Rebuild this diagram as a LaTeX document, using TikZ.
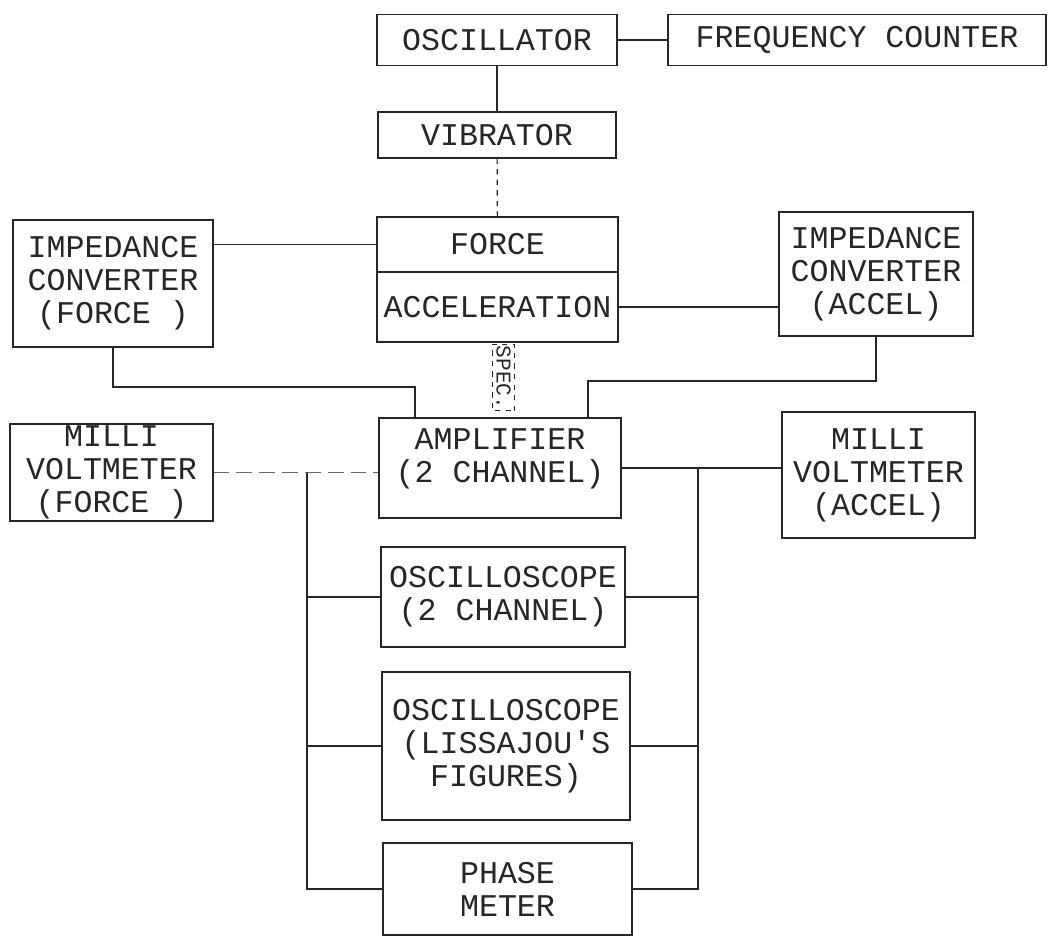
\documentclass[tikz,border=0pt]{standalone}
\usepackage{fontspec}
\newfontfamily\typer{Liberation Mono}
\usetikzlibrary{calc}

\begin{document}
\begin{tikzpicture}[
    x=0.02cm, y=-0.02cm,
    color=black!85,
    line width=0.7pt,
    unit/.style={draw, rectangle, inner sep=0pt, align=center,
      font=\typer\fontsize{18}{18.8}\selectfont},
    faint/.style={black!60, dash pattern=on 9pt off 4pt},
    spec/.style={draw, dashed, line width=0.6pt, inner sep=1pt,
      font=\typer\fontsize{12}{12}\selectfont}
  ]
  \useasboundingbox (0,0) rectangle (1050,938);

  \node[unit, minimum width=4.8cm, minimum height=1.02cm] (osc) at (497,40) {OSCILLATOR};
  \node[unit, minimum width=7.56cm, minimum height=1.02cm] (freq) at (857,40) {FREQUENCY COUNTER};
  \node[unit, minimum width=4.76cm, minimum height=0.92cm] (vib) at (497,135) {VIBRATOR};
  \node[unit, minimum width=4.82cm, minimum height=1.1cm] (force) at (497.5,244.5) {FORCE};
  \node[unit, minimum width=4.82cm, minimum height=1.4cm] (accel) at (497.5,307) {ACCELERATION};
  \node[unit, minimum width=4cm, minimum height=2.54cm] (icf) at (113,283.5) {IMPEDANCE\\CONVERTER\\(FORCE )};
  \node[unit, minimum width=3.88cm, minimum height=2.48cm] (ica) at (876,274) {IMPEDANCE\\CONVERTER\\(ACCEL)};
  \node[unit, minimum width=4.06cm, minimum height=1.94cm] (mvf) at (111.5,472.5) {MILLI\\VOLTMETER\\(FORCE )};
  \node[unit, minimum width=3.86cm, minimum height=2.52cm] (mva) at (878.5,475) {MILLI\\VOLTMETER\\(ACCEL)};
  \node[unit, minimum width=4.84cm, minimum height=2cm, text depth=0.5cm] (amp) at (500,468) {AMPLIFIER\\(2 CHANNEL)};
  \node[unit, minimum width=4.88cm, minimum height=2cm] (scope) at (503,597) {OSCILLOSCOPE\\(2 CHANNEL)};
  \node[unit, minimum width=4.96cm, minimum height=2.96cm] (lissa) at (506,746) {OSCILLOSCOPE\\(LISSAJOU\textquotesingle S\\FIGURES)};
  \node[unit, minimum width=4.98cm, minimum height=1.84cm] (phase) at (507.5,889) {PHASE\\METER};
  \node[spec, rotate=-90, anchor=west, minimum width=1.04cm, minimum height=0.44cm] (specl) at ($(accel.south)+(6,1)$) {SPEC.};

  \coordinate (fl) at (415,387);
  \coordinate (ar) at (588,381);
  \coordinate (lb) at (307,0);
  \coordinate (rb) at (698,0);

  \draw (osc.east) -- (osc.east -| freq.west);
  \draw (osc) -- (vib);
  \draw[dashed] (vib) -- (force);
  \draw (force.west) -- (force.west -| icf.east);
  \draw (accel.east) -- (accel.east -| ica.west);
  \draw (icf.south) |- (fl) -- (fl |- amp.north);
  \draw (ica.south) |- (ar) -- (ar |- amp.north);
  \draw[faint] (mvf.east) -- (mvf.east -| amp.west);
  \draw (lb |- mvf.east) -- (lb |- phase.west) -- (phase.west);
  \draw (lb |- scope.west) -- (scope.west);
  \draw (lb |- lissa.west) -- (lissa.west);
  \draw (amp.east) -- (amp.east -| mva.west);
  \draw (rb |- amp.east) -- (rb |- phase.east) -- (phase.east);
  \draw (rb |- scope.east) -- (scope.east);
  \draw (rb |- lissa.east) -- (lissa.east);
\end{tikzpicture}
\end{document}
